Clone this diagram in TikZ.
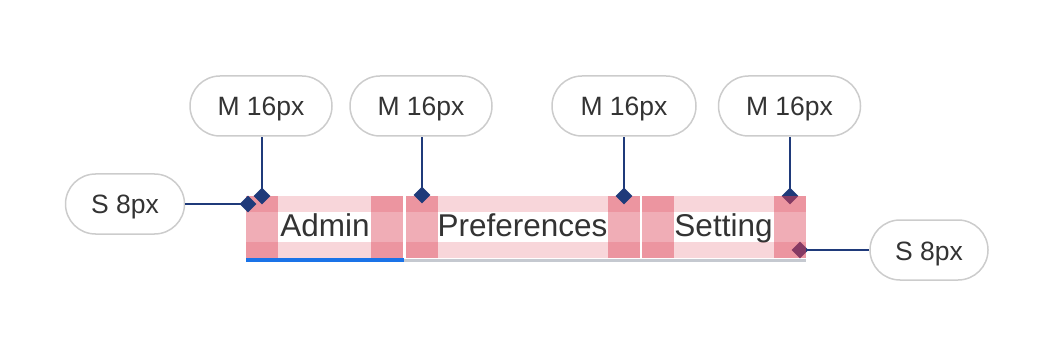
\documentclass[tikz,border=0pt]{standalone}
\usepackage{fontspec}
\setmainfont{Liberation Sans}
\usetikzlibrary{shapes.geometric}
\definecolor{pinkc}{RGB}{220,60,80}
\definecolor{navy}{RGB}{31,58,122}
\definecolor{pillgray}{RGB}{204,204,204}
\definecolor{txt}{RGB}{51,51,51}
\definecolor{tabblue}{RGB}{26,115,232}
\definecolor{linegray}{RGB}{197,201,208}
\newcommand{\pinktab}[2]{%
  \fill[pinkc, opacity=0.21] (#1,196) rectangle (#2,212);
  \fill[pinkc, opacity=0.21] (#1,242) rectangle (#2,258);
  \fill[pinkc, opacity=0.42] (#1,196) rectangle ({#1+32},258);
  \fill[pinkc, opacity=0.42] ({#2-32},196) rectangle (#2,258);
}
\begin{document}
\begin{tikzpicture}[x=1pt,y=-1pt,
  pill/.style={draw=pillgray, line width=1.5pt, rounded corners=30pt, minimum height=60pt,
    inner sep=0pt, text=txt, font=\fontsize{26.5}{30}\selectfont, text height=20pt, text depth=0pt},
  tabtext/.style={inner sep=0pt, text=txt, font=\fontsize{31.5}{36}\selectfont, text height=20pt, text depth=0pt},
  dmd/.style={diamond, fill=navy, minimum size=17pt, inner sep=0pt},
  conn/.style={draw=navy, line width=2.6pt}]
\useasboundingbox (0,0) rectangle (1054,358);
% tabs 1 and 2
\pinktab{246}{403}
\pinktab{406}{640}
% underline
\fill[linegray] (404,259) rectangle (806,261.5);
\fill[tabblue] (246,258) rectangle (404,262);
% tab labels
\node[tabtext] (t1) at (325,226) {Admin};
\node[tabtext] (t2) at (522.5,226) {Preferences};
\node[tabtext] (t3) at (723.5,226) {Setting};
% pills
\node[pill, minimum width=142pt] (p1) at (261,106) {M 16px};
\node[pill, minimum width=142pt] (p2) at (421,106) {M 16px};
\node[pill, minimum width=144pt] (p3) at (624,106) {M 16px};
\node[pill, minimum width=142pt] (p4) at (789.5,106) {M 16px};
\node[pill, minimum width=119pt] (s1) at (125,204) {S 8px};
\node[pill, minimum width=118pt] (s2) at (929,250) {S 8px};
% diamonds
\node[dmd] (d1) at (262,196) {};
\node[dmd] (d2) at (422,195) {};
\node[dmd] (d3) at (624,196) {};
\node[dmd] (d4) at (790,196) {};
\node[dmd] (d5) at (248,204) {};
\node[dmd] (d6) at (800,250) {};
% connectors
\draw[conn] (d1.center) -- (d1.center |- p1.south);
\draw[conn] (d2.center) -- (d2.center |- p2.south);
\draw[conn] (d3.center) -- (d3.center |- p3.south);
\draw[conn] (d4.center) -- (d4.center |- p4.south);
\draw[conn] (d5.center) -- (d5.center -| s1.east);
\draw[conn] (d6.center) -- (d6.center -| s2.west);
% tab 3 overlay on top
\pinktab{642}{806}
\end{tikzpicture}
\end{document}
